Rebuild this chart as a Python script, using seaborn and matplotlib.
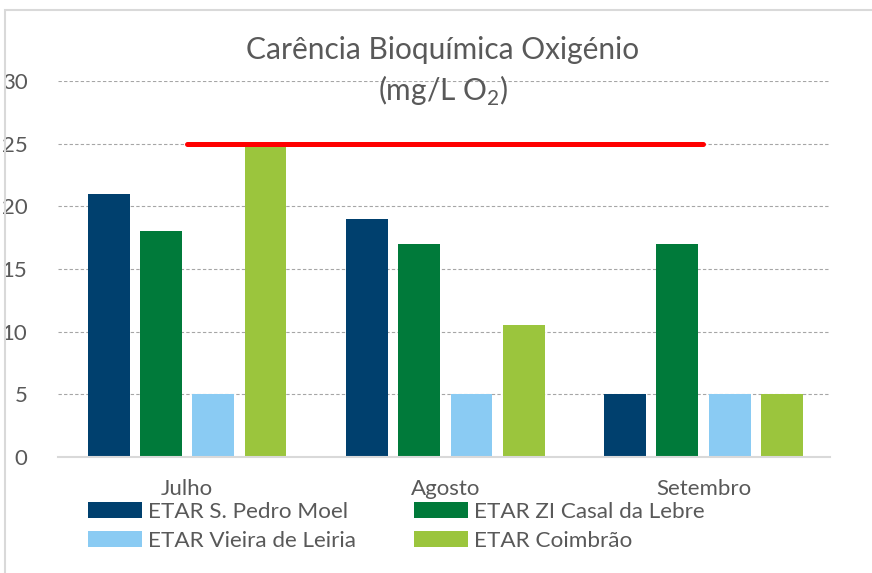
import pandas as pd
import matplotlib
matplotlib.use('Agg')
import matplotlib.pyplot as plt
import seaborn as sns
from matplotlib.patches import Rectangle

# --- DATA ---
meses = ["Julho", "Agosto", "Setembro"]
etars = ["ETAR S. Pedro Moel", "ETAR ZI Casal da Lebre",
         "ETAR Vieira de Leiria", "ETAR Coimbrão"]
s_pedro_moel = [21, 19, 5]
casal_da_lebre = [18, 17, 17]
vieira_de_leiria = [5, 5, 5]
coimbrao = [24.8, 10.5, 5]
limite = [25, 25, 25]

cores = ["#00406E", "#007A3A", "#8ACBF3", "#9BC53D"]

df = pd.DataFrame({
    "mes": meses * 4,
    "etar": [e for e in etars for _ in meses],
    "valor": s_pedro_moel + casal_da_lebre + vieira_de_leiria + coimbrao,
})

# --- STYLE ---
sns.set_style("white")
plt.rcParams['font.family'] = ['Lato', 'DejaVu Sans']
plt.rcParams['mathtext.fontset'] = 'custom'
plt.rcParams['mathtext.rm'] = 'Lato'
txt = "#595959"

fig = plt.figure(figsize=(8.72, 5.73), dpi=100)
ax = fig.add_axes([58/872, 1-457/573, (830-58)/872, (457-81)/573])

# outer frame
fig.patches.append(Rectangle((5/872, -0.05), 1.2, (573-10)/573 + 0.05,
                             transform=fig.transFigure, fill=False,
                             edgecolor="#d9d9d9", linewidth=1.5))

sns.barplot(data=df, x="mes", y="valor", hue="etar", palette=cores,
            saturation=1, width=0.81, gap=0.2, ax=ax, legend=True,
            edgecolor="none")

# limit line
ax.plot(range(len(meses)), limite, color="#FF0000", linewidth=3.6,
        solid_capstyle="round", zorder=5)

ax.set_xlim(-0.5, 2.49)
ax.set_ylim(0, 30)
ax.set_yticks(range(0, 31, 5))
ax.yaxis.grid(True, linestyle=(0, (3, 2)), color="#a6a6a6", linewidth=0.8)
ax.set_axisbelow(True)
ax.set_xlabel("")
ax.set_ylabel("")
for s in ["top", "right", "left"]:
    ax.spines[s].set_visible(False)
ax.spines["bottom"].set_color("#d9d9d9")
ax.spines["bottom"].set_linewidth(1.5)
ax.tick_params(axis="both", length=0, labelsize=16, colors=txt)
ax.tick_params(axis="y", pad=22)
ax.tick_params(axis="x", pad=16)

fig.text(443/872, 1-50/573, "Carência Bioquímica Oxigénio", ha="center",
         va="center", fontsize=21.5, color=txt)
fig.text(443/872, 1-91/573, "(mg/L O$_\\mathrm{2}$)", ha="center", va="center",
         fontsize=21.5, color=txt)

handles, labels = ax.get_legend_handles_labels()
order = [0, 2, 1, 3]
ax.legend([handles[i] for i in order], [labels[i] for i in order], ncol=2,
          loc="upper left",
          bbox_to_anchor=(88/872, 1-502/573), bbox_transform=fig.transFigure,
          frameon=False, fontsize=16.2, labelcolor=txt, handlelength=2.4,
          handleheight=0.7, handletextpad=0.25, columnspacing=2.6,
          labelspacing=0.4, borderpad=0, borderaxespad=0)

fig.savefig("out.png", dpi=100)
